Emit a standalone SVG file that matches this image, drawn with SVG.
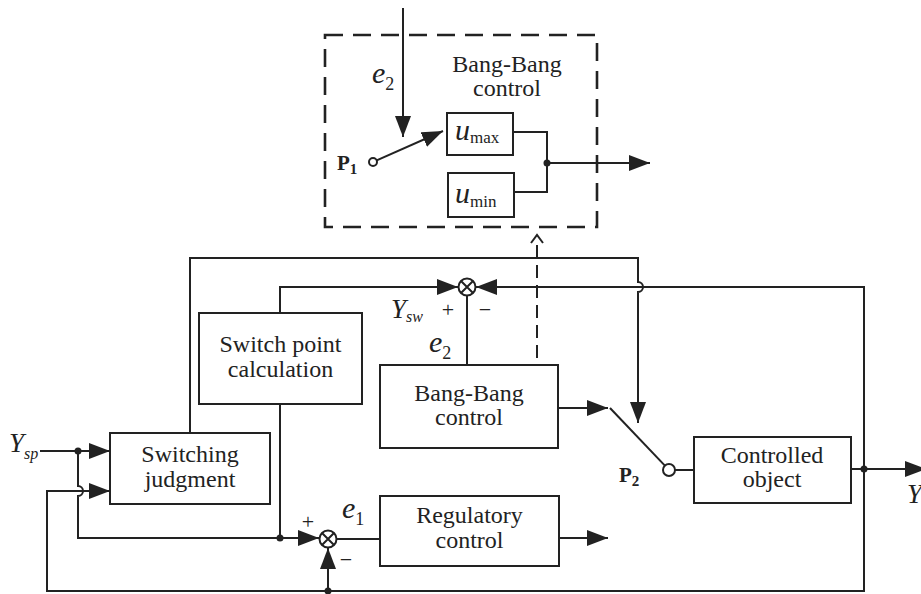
<svg xmlns="http://www.w3.org/2000/svg" width="921" height="594" viewBox="0 0 921 594">
<style>
.box{fill:#fff;stroke:#222;stroke-width:2}
.ln{fill:none;stroke:#222;stroke-width:2}
.arr{fill:none;stroke:#222;stroke-width:2;marker-end:url(#ah)}
.dash{fill:none;stroke:#222;stroke-width:2.6}
text{font-family:'Liberation Serif','DejaVu Serif',serif;fill:#222}
.t{font-size:24px;text-anchor:middle}
.i{font-style:italic}
.n{font-style:normal}
.b{font-weight:bold}
.dot{fill:#222}
</style>
<defs>
<marker id="ah" viewBox="0 0 21 16" refX="21" refY="8" markerWidth="21" markerHeight="16" markerUnits="userSpaceOnUse" orient="auto">
<path d="M0,0 L21,8 L0,16 Z" fill="#222"/>
</marker>
</defs>
<rect width="921" height="594" fill="#fff"/>

<g id="bangbang-detail">
<rect x="325" y="35" width="272" height="192" class="dash" stroke-dasharray="18 10"/>
<text class="t" x="507" y="72">Bang-Bang</text>
<text class="t" x="507" y="96">control</text>
<circle cx="373" cy="162" r="4" fill="#fff" stroke="#222" stroke-width="2"/>
<text class="b" x="337" y="170" font-size="21">P<tspan font-size="15" dy="4">1</tspan></text>
<text class="i" x="372" y="83" font-size="30">e<tspan class="n" font-size="18" dy="7">2</tspan></text>
</g>
<g id="umax">
<rect x="447" y="113" width="66" height="42" class="box"/>
<text class="i" x="455" y="140" font-size="30">u<tspan class="n" font-size="17" dy="3">max</tspan></text>
</g>
<g id="umin">
<rect x="448" y="173" width="66" height="44" class="box"/>
<text class="i" x="455" y="203" font-size="30">u<tspan class="n" font-size="17" dy="4">min</tspan></text>
</g>

<g id="switch-point">
<rect x="199" y="313" width="163" height="91" class="box"/>
<text class="t" x="280.5" y="352">Switch point</text>
<text class="t" x="280.5" y="377">calculation</text>
</g>
<g id="switching-judgment">
<rect x="110" y="433" width="160" height="71" class="box"/>
<text class="t" x="190" y="462">Switching</text>
<text class="t" x="190" y="487">judgment</text>
</g>
<g id="bangbang-control">
<rect x="380" y="365" width="178" height="83" class="box"/>
<text class="t" x="469" y="401">Bang-Bang</text>
<text class="t" x="469" y="425">control</text>
</g>
<g id="regulatory-control">
<rect x="380" y="496" width="179" height="70" class="box"/>
<text class="t" x="469.5" y="523">Regulatory</text>
<text class="t" x="469.5" y="548">control</text>
</g>
<g id="controlled-object">
<rect x="694" y="437" width="157" height="66" class="box"/>
<text class="t" x="772" y="463">Controlled</text>
<text class="t" x="772" y="487">object</text>
</g>

<g id="sum1">
<circle cx="328" cy="539" r="8.5" fill="#fff" stroke="#222" stroke-width="2"/>
<path d="M322,533 L334,545 M334,533 L322,545" class="ln"/>
</g>
<g id="sum2">
<circle cx="467" cy="287" r="8.5" fill="#fff" stroke="#222" stroke-width="2"/>
<path d="M461,281 L473,293 M473,281 L461,293" class="ln"/>
</g>
<g id="switch-p2">
<circle cx="669" cy="470" r="6" fill="#fff" stroke="#222" stroke-width="2"/>
<text class="b" x="619" y="482" font-size="21">P<tspan font-size="15" dy="4">2</tspan></text>
</g>

<g id="connectors">
<path d="M403,8 V137" class="arr"/>
<path d="M376.7,160.4 L443,131" class="arr"/>
<path d="M513,132 H547 V192 H514" class="ln"/>
<circle cx="547" cy="163" r="3.5" class="dot"/>
<path d="M547,163 H650" class="arr"/>
<path d="M537,358 V238" class="ln" stroke-dasharray="13 7" stroke-width="2.6"/>
<path d="M531,243 L537,235 L543,243" class="ln"/>

<path d="M40,451 H110" class="arr"/>
<circle cx="78" cy="451" r="3.5" class="dot"/>
<path d="M78,451 V486 A5,5 0 0 1 78,496 V538 H319" class="arr"/>
<circle cx="280" cy="538" r="3.5" class="dot"/>
<path d="M864,469 V591 H47 V491 H110" class="arr"/>
<path d="M328,591 V548" class="arr"/>
<circle cx="328" cy="591" r="3.5" class="dot"/>
<path d="M337,539 H380" class="ln"/>
<path d="M559,538 H608" class="arr"/>
<path d="M280,313 V287 H458" class="arr"/>
<path d="M280,404 V538" class="ln"/>
<path d="M190,433 V258 H638 V282 A5,5 0 0 1 638,292 V423" class="arr"/>
<path d="M864,469 V287 H476" class="arr"/>
<path d="M467,296 V365" class="ln"/>
<path d="M558,408 H608" class="arr"/>
<path d="M610,408 L664.9,465.6" class="ln"/>
<path d="M675,470 H694" class="ln"/>
<path d="M851,469 H926" class="arr"/>
<circle cx="864" cy="469" r="3.5" class="dot"/>
</g>

<g id="labels">
<text class="i" x="9" y="452" font-size="27">Y<tspan font-size="16" dy="7">sp</tspan></text>
<text class="i" x="391" y="318" font-size="27">Y<tspan font-size="16" dy="4">sw</tspan></text>
<text x="448" y="317" font-size="22" text-anchor="middle">+</text>
<text x="485" y="317" font-size="22" text-anchor="middle">−</text>
<text class="i" x="429" y="352" font-size="30">e<tspan class="n" font-size="18" dy="7">2</tspan></text>
<text class="i" x="342" y="518" font-size="30">e<tspan class="n" font-size="18" dy="7">1</tspan></text>
<text x="308" y="529" font-size="22" text-anchor="middle">+</text>
<text x="346" y="567" font-size="22" text-anchor="middle">−</text>
<text class="i" x="907" y="503" font-size="27">Y</text>
</g>
</svg>
